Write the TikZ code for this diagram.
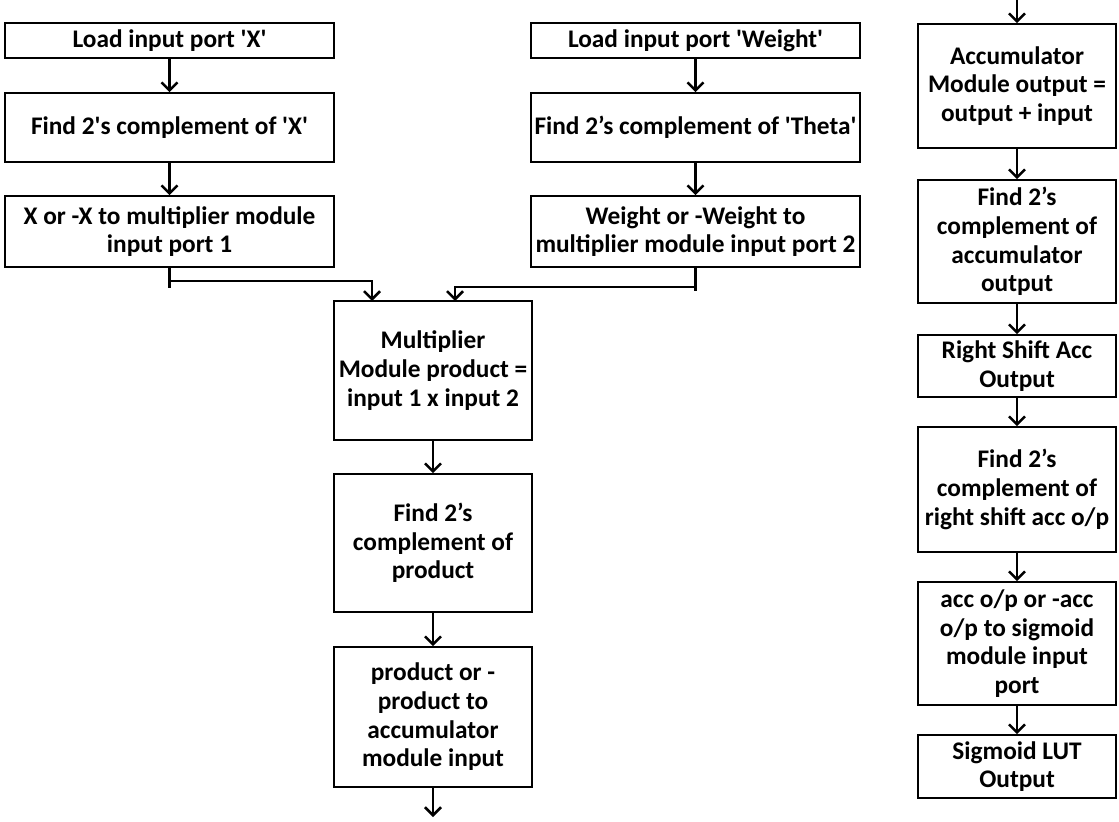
\documentclass[tikz,border=0pt]{standalone}
\usepackage{fontspec}
\setmainfont{Carlito}
\usetikzlibrary{arrows.meta}
\newcommand\sq{\textquotesingle}

\begin{document}
\begin{tikzpicture}[x=0.75pt,y=-0.75pt,
  blk/.style={draw=black,line width=1.2pt,align=center,inner sep=1pt,
     font=\fontsize{19}{21.5}\selectfont\bfseries},
  wide/.style={blk,minimum width=246.75pt},
  narrow/.style={blk,minimum width=148.5pt},
  flow/.style={draw=black,line width=1.9pt,-{Straight Barb[length=6pt,width=12pt]}}]
\useasboundingbox (0,0) rectangle (1119,821);
% input X side
\node[wide,minimum height=26.25pt] (ldx) at (169.5,40.5) {Load input port \sq X\sq};
\node[wide,minimum height=51.75pt] (cpx) at (169.5,127.5) {Find 2\sq s complement of \sq X\sq};
\node[wide,minimum height=53.25pt] (selx) at (169.5,231.5) {X or -X to multiplier module\\input port 1};
% weight side
\node[wide,minimum height=26.25pt] (ldw) at (695.5,40.5) {Load input port \sq Weight\sq};
\node[wide,minimum height=51.75pt] (cpw) at (695.5,127.5) {Find 2's complement of \sq Theta\sq};
\node[wide,minimum height=53.25pt] (selw) at (695.5,231.5) {Weight or -Weight to\\multiplier module input port 2};
% multiplier column
\node[narrow,minimum height=104.25pt] (mult) at (433,370.5) {Multiplier\\Module product =\\input 1 x input 2};
\node[narrow,minimum height=103.5pt] (cpp) at (433,543) {Find 2's\\complement of\\product};
\node[narrow,minimum height=105pt] (selp) at (433,717) {product or -\\product to\\accumulator\\module input};
% accumulator column
\node[narrow,minimum height=93pt] (acc) at (1017,86) {Accumulator\\Module output =\\output + input};
\node[narrow,minimum height=92.25pt] (cpa) at (1017,241.5) {Find 2's\\complement of\\accumulator\\output};
\node[narrow,minimum height=46.5pt] (rsh) at (1017,366) {Right Shift Acc\\Output};
\node[narrow,minimum height=93.75pt] (cpr) at (1017,489.5) {Find 2's\\complement of\\right shift acc o/p};
\node[narrow,minimum height=92.25pt] (sels) at (1017,643.5) {acc o/p or -acc\\o/p to sigmoid\\module input\\port};
\node[narrow,minimum height=47.25pt] (lut) at (1017,766.5) {Sigmoid LUT\\Output};
\coordinate (inX) at (372,301);
\coordinate (inW) at (455,301);
\coordinate (accin) at (1017,0);
\coordinate (prodout) at (433,817);

\draw[flow] (ldx) -- (cpx);
\draw[flow] (cpx) -- (selx);
\draw[flow] (ldw) -- (cpw);
\draw[flow] (cpw) -- (selw);
\draw[line width=1.9pt] (selx.south) -- ++(0,20);
\draw[flow] (selx.south) -- ++(0,13) -| (inX);
\draw[line width=1.9pt] (selw.south) -- ++(0,23);
\draw[flow] (selw.south) -- ++(0,19) -| (inW);
\draw[flow] (mult) -- (cpp);
\draw[flow] (cpp) -- (selp);
\draw[flow] (selp) -- (prodout);
\draw[flow] (accin) -- (acc);
\draw[flow] (acc) -- (cpa);
\draw[flow] (cpa) -- (rsh);
\draw[flow] (rsh) -- (cpr);
\draw[flow] (cpr) -- (sels);
\draw[flow] (sels) -- (lut);
\end{tikzpicture}
\end{document}
